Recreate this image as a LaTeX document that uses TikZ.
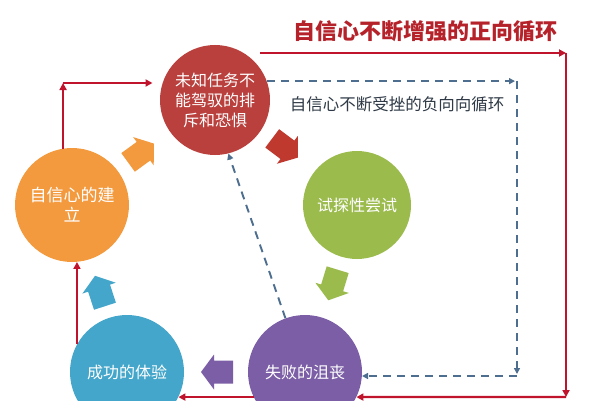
\documentclass[tikz,border=0pt]{standalone}
\usepackage{fontspec}
\setmainfont{Noto Sans CJK SC}
\usetikzlibrary{arrows.meta}
\definecolor{cred}{HTML}{B9403D}
\definecolor{ared}{HTML}{C0392F}
\definecolor{cgreen}{HTML}{9BBB4D}
\definecolor{cpurple}{HTML}{7B5EA6}
\definecolor{cblue}{HTML}{44A6CA}
\definecolor{corange}{HTML}{F39A3F}
\definecolor{lred}{HTML}{C0142C}
\definecolor{ldash}{HTML}{4D6E8E}
\definecolor{tred}{HTML}{B5222A}
\definecolor{tgray}{HTML}{2F3A46}
\begin{document}
\begin{tikzpicture}[x=1pt,y=-1pt,
  ball/.style={circle,inner sep=0pt,text=white,align=center,font=\fontsize{16}{20}\selectfont},
  blockarrow/.pic={\fill (16,0) -- (3,17.5) -- (3,11.5) -- (-16,11.5) -- (-16,-11.5) -- (3,-11.5) -- (3,-17.5) -- cycle;},
  posline/.style={draw=lred,line width=2.2pt,-{Triangle[length=7pt,width=7pt]}},
  negline/.style={draw=ldash,line width=1.9pt,dash pattern=on 8pt off 6pt,-{Triangle[length=6pt,width=6pt]}},
]
\useasboundingbox (0,0) rectangle (589,412);
\fill[white] (0,0) rectangle (589,412);
\begin{scope}
\clip (0,0) rectangle (589,400);
\node[ball,fill=cred,minimum size=110pt] (R) at (215,100) {未知任务不\\能驾驭的排\\斥和恐惧};
\node[ball,fill=cgreen,minimum size=108pt] (G) at (357,205) {试探性尝试};
\node[ball,fill=cpurple,minimum size=114pt] (P) at (305,372) {失败的沮丧};
\node[ball,fill=cblue,minimum size=114pt] (B) at (127,372) {成功的体验};
\node[ball,fill=corange,minimum size=114pt,font=\fontsize{17}{20}\selectfont] (O) at (72,205) {自信心的建\\立};
\end{scope}
% block arrows
\pic[corange,rotate=36] (AO) at (141,153) {blockarrow};
\pic[ared,rotate=-37] (AR) at (285,148) {blockarrow};
\pic[cgreen,rotate=-107] (AG) at (333,285) {blockarrow};
\pic[cpurple,rotate=180] (AP) at (217,372) {blockarrow};
\pic[cblue,rotate=108] (AB) at (100,291) {blockarrow};
% titles
\node[font=\fontsize{22}{24}\selectfont\bfseries,text=tred] (T1) at (425,31) {自信心不断增强的正向循环};
\node[font=\fontsize{16.5}{20}\selectfont,text=tgray] (T2) at (397,104) {自信心不断受挫的负向向循环};
% positive loop
\coordinate (t1) at (260,53);
\coordinate (c1) at (566,53);
\coordinate (c2) at (566,397);
\coordinate (c3) at (63,83);
\draw[posline] (t1) -- (c1);
\draw[posline] (c1) -- (c2);
\draw[posline] (c2) -- (P.-26);
\draw[posline] (P.206) -- (B.-26);
\draw[posline] (B.151.6) -- (B.151.6 |- O.-85);
\draw[posline] (O.99) -- (O.99 |- c3);
\draw[posline,shorten >=10pt] (c3) -- (R.162 |- c3);
% negative loop
\coordinate (d1) at (517,81);
\coordinate (d2) at (517,376);
\draw[negline,shorten >=2pt] (R.20) -- (R.20 -| d1);
\draw[negline,shorten >=2pt] (d1) -- (d2);
\draw[negline] (d2) -- (P.-4 |- d2);
\draw[negline] (P.110) -- (R.-76);
\end{tikzpicture}
\end{document}
